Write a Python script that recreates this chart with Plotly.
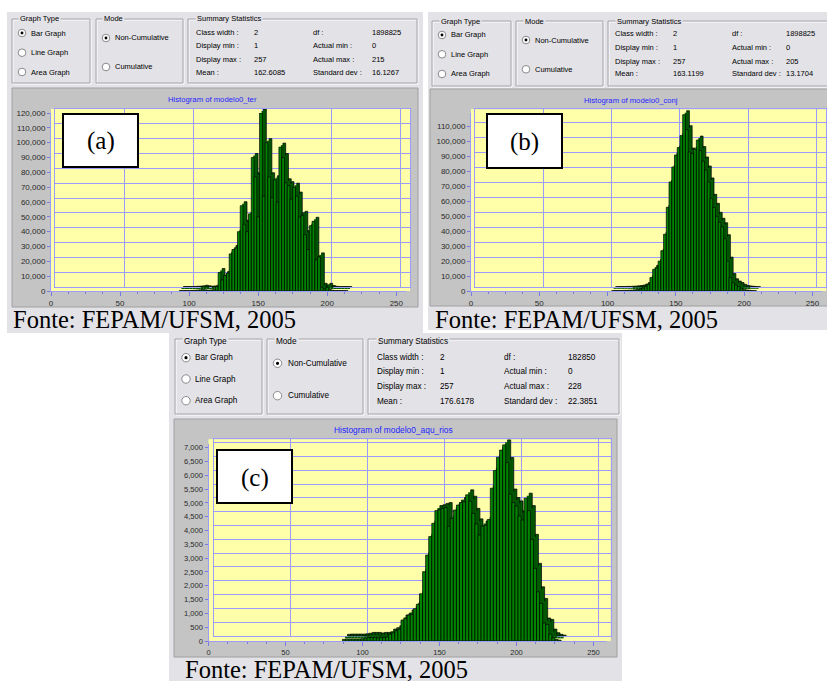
import plotly.graph_objects as go

W, H = 827, 681

# ---------------- data ----------------
TITLES = ["Histogram of modelo0_ter", "Histogram of modelo0_conj", "Histogram of modelo0_aqu_rios"]
TAGS = ["(a)", "(b)", "(c)"]
CAPTION = "Fonte: FEPAM/UFSM, 2005"
GRAPH_TYPES = ["Bar Graph", "Line Graph", "Area Graph"]
MODES = ["Non-Cumulative", "Cumulative"]
STAT_LABELS_L = ["Class width :", "Display min :", "Display max :", "Mean :"]
STAT_LABELS_R = ["df :", "Actual min :", "Actual max :", "Standard dev :"]
STATS_A_L = ["2", "1", "257", "162.6085"]
STATS_A_R = ["1898825", "0", "215", "16.1267"]
STATS_B_L = ["2", "1", "257", "163.1199"]
STATS_B_R = ["1898825", "0", "205", "13.1704"]
STATS_C_L = ["2", "1", "257", "176.6178"]
STATS_C_R = ["182850", "0", "228", "22.3851"]
X_TICKS = [0, 50, 100, 150, 200, 250]

BINS_A = [94, 96, 98, 100, 102, 104, 106, 108, 110, 112, 114, 116, 118, 120, 122, 124,
          126, 128, 130, 132, 134, 136, 138, 140, 142, 144, 146, 148, 150, 152, 154, 156,
          158, 160, 162, 164, 166, 168, 170, 172, 174, 176, 178, 180, 182, 184, 186, 188,
          190, 192, 194, 196, 198, 200, 202, 204, 206, 208, 210, 212, 214]
COUNTS_A = [300, 300, 300, 300, 400, 500, 600, 800, 1200, 800, 600, 700, 1000, 3000, 12500, 7500,
            10500, 12000, 25000, 28000, 29000, 40000, 57500, 45000, 40000, 52000, 90000, 77000, 50000, 120000, 64000, 100000,
            77000, 63000, 75000, 60000, 97000, 90000, 73000, 71000, 62000, 70000, 64000, 50000, 51000, 38000, 28000, 44000,
            47000, 21000, 23000, 2500, 1500, 2500, 1000, 500, 300, 300, 300, 300, 200]

BINS_B = [104, 106, 108, 110, 112, 114, 116, 118, 120, 122, 124, 126, 128, 130, 132, 134,
          136, 138, 140, 142, 144, 146, 148, 150, 152, 154, 156, 158, 160, 162, 164, 166,
          168, 170, 172, 174, 176, 178, 180, 182, 184, 186, 188, 190, 192, 194, 196, 198,
          200, 202, 204, 206, 208]
COUNTS_B = [200, 300, 300, 300, 400, 400, 500, 600, 800, 1000, 1300, 2000, 3000, 4500, 9000, 14500,
            15500, 20000, 27000, 38000, 56000, 73000, 83000, 91000, 96000, 104000, 118000, 108000, 93000, 92000, 95000, 101000,
            94000, 87000, 81000, 73000, 62000, 56000, 50000, 46000, 43000, 35000, 20000, 9000, 5500, 4000, 3000, 1800,
            1000, 700, 500, 300, 200]

BINS_C = [88, 90, 92, 94, 96, 98, 100, 102, 104, 106, 108, 110, 112, 114, 116, 118,
          120, 122, 124, 126, 128, 130, 132, 134, 136, 138, 140, 142, 144, 146, 148, 150,
          152, 154, 156, 158, 160, 162, 164, 166, 168, 170, 172, 174, 176, 178, 180, 182,
          184, 186, 188, 190, 192, 194, 196, 198, 200, 202, 204, 206, 208, 210, 212, 214,
          216, 218, 220, 222, 224, 226, 228]
COUNTS_C = [60, 70, 70, 70, 70, 70, 80, 100, 130, 130, 130, 110, 130, 130, 150, 250,
            300, 370, 430, 760, 820, 940, 960, 1170, 1330, 1710, 2510, 3110, 3780, 4260, 4720, 4750,
            4800, 4830, 4150, 4440, 4740, 4920, 5010, 5040, 5290, 5060, 4620, 4240, 3840, 4160, 4190, 4400,
            5530, 6170, 6650, 6910, 7100, 6460, 5320, 5010, 4890, 4530, 4380, 5170, 4720, 3680, 2630, 1780,
            1360, 650, 600, 250, 120, 60, 30]

# ---------------- geometry / style ----------------
SANS = "Liberation Sans"
SERIF = "Liberation Serif"
PANEL_BG = "#e3e2e7"
FRAME_BG = "#c4c4c4"
WALL = "#ffffaa"
GRID = "#9c9cff"
GREEN_FRONT = "#008400"
GREEN_BACK = "#005800"

GEOS = [
    dict(bg=(7, 12, 423, 333),
         gt_box=(12, 19, 90, 83), gt_lab=(18, 19), gt_rx=22, gt_ry=(33, 52.7, 72), gt_tx=29.5,
         md_box=(96, 19, 183, 83), md_lab=(102, 19), md_rx=106, md_ry=(38, 67), md_tx=113.5,
         ss_box=(188, 19, 417, 83), ss_lab=(195, 19), rows=(32, 45.3, 59, 72.7), cols=(195, 253, 312, 371),
         frame=(12, 88, 418, 307), title=(212, 99),
         front=(51, 113, 406, 291), off=4, xmax=257, ymax=120000, ystep=10000,
         tag=(63, 114, 138, 167), caption=(12, 319), fs=7.5, tfs=8, rr=3.8,
         bins=BINS_A, counts=COUNTS_A, sl=STATS_A_L, sr=STATS_A_R),
    dict(bg=(428, 12, 827, 330),
         gt_box=(432, 21, 511, 86), gt_lab=(439, 21), gt_rx=442, gt_ry=(35, 54.3, 74), gt_tx=449.5,
         md_box=(516, 21, 603, 86), md_lab=(523, 21), md_rx=526, md_ry=(40, 69.3), md_tx=534,
         ss_box=(608, 21, 845, 86), ss_lab=(615, 21), rows=(34, 47.3, 61, 74), cols=(614, 672, 731, 785),
         frame=(430, 89, 845, 306), title=(631, 100),
         front=(471, 113.2, 822, 291), off=4, xmax=257, ymax=119000, ystep=10000,
         tag=(487, 114, 562, 168), caption=(434, 319), fs=7.5, tfs=8, rr=3.8,
         bins=BINS_B, counts=COUNTS_B, sl=STATS_B_L, sr=STATS_B_R),
    dict(bg=(169, 333, 622, 681),
         gt_box=(175, 339, 262, 414), gt_lab=(182, 341.5), gt_rx=186, gt_ry=(357.7, 379, 400.7), gt_tx=194,
         md_box=(267, 339, 363, 414), md_lab=(274, 341.5), md_rx=277.5, md_ry=(363.3, 395.7), md_tx=286.5,
         ss_box=(368, 339, 619, 414), ss_lab=(376, 341.5), rows=(357.3, 371.7, 386.7, 401.3), cols=(376, 439, 503, 567),
         frame=(174, 419, 617, 657), title=(393, 430),
         front=(208.5, 444.3, 605.8, 641), off=5, xmax=258, ymax=7120, ystep=500,
         tag=(217, 450, 292, 503), caption=(184, 669.5), fs=8.2, tfs=7.6, rr=4.2,
         bins=BINS_C, counts=COUNTS_C, sl=STATS_C_L, sr=STATS_C_R),
]


def X(p):
    return p / W


def Y(p):
    return 1 - p / H


shapes, annos = [], []


def rect(x0, y0, x1, y1, fill=None, line=None, lw=1, layer="below"):
    shapes.append(dict(type="rect", xref="paper", yref="paper",
                       x0=X(x0), x1=X(x1), y0=Y(y1), y1=Y(y0),
                       fillcolor=fill if fill else "rgba(0,0,0,0)",
                       line=dict(color=line if line else "rgba(0,0,0,0)", width=lw if line else 0),
                       layer=layer))


def circle(cx, cy, r, fill, line=None, lw=1):
    shapes.append(dict(type="circle", xref="paper", yref="paper",
                       x0=X(cx - r), x1=X(cx + r), y0=Y(cy + r), y1=Y(cy - r),
                       fillcolor=fill,
                       line=dict(color=line if line else "rgba(0,0,0,0)", width=lw if line else 0),
                       layer="above"))


def text(x, y, s, size, color="black", family=SANS, anchor="left", bg=None):
    a = dict(xref="paper", yref="paper", x=X(x), y=Y(y), text=s, showarrow=False,
             xanchor=anchor, yanchor="middle", borderpad=0,
             font=dict(size=size, color=color, family=family))
    if bg:
        a["bgcolor"] = bg
        a["borderpad"] = 1
    annos.append(a)


def group_box(box, lab, label, fs):
    x0, y0, x1, y1 = box
    rect(x0 + 1, y0 + 1, x1 + 1, y1 + 1, line="white")
    rect(x0, y0, x1, y1, line="#a4a4a8")
    text(lab[0], lab[1], label, fs, bg=PANEL_BG)


fig = go.Figure()
axes = {}


def ax_name(kind, n):
    return f"{kind}axis" if n == 1 else f"{kind}axis{n}"


def ax_ref(kind, n):
    return kind if n == 1 else f"{kind}{n}"


for i, g in enumerate(GEOS):
    fs = g["fs"]
    # panel background
    rect(*g["bg"], fill=PANEL_BG)
    # header groups
    group_box(g["gt_box"], g["gt_lab"], "Graph Type", fs)
    for k, (ry, lab) in enumerate(zip(g["gt_ry"], GRAPH_TYPES)):
        circle(g["gt_rx"], ry, g["rr"], "white", "#8a8a8a")
        if k == 0:
            circle(g["gt_rx"], ry, g["rr"] * 0.38, "black")
        text(g["gt_tx"], ry, lab, fs)
    group_box(g["md_box"], g["md_lab"], "Mode", fs)
    for k, (ry, lab) in enumerate(zip(g["md_ry"], MODES)):
        circle(g["md_rx"], ry, g["rr"], "white", "#8a8a8a")
        if k == 0:
            circle(g["md_rx"], ry, g["rr"] * 0.38, "black")
        text(g["md_tx"], ry, lab, fs)
    group_box(g["ss_box"], g["ss_lab"], "Summary Statistics", fs)
    c0, c1, c2, c3 = g["cols"]
    for r, yy in enumerate(g["rows"]):
        text(c0, yy, STAT_LABELS_L[r], fs)
        text(c1, yy, g["sl"][r], fs)
        text(c2, yy, STAT_LABELS_R[r], fs)
        text(c3, yy, g["sr"][r], fs)

    # chart frame
    rect(*g["frame"], fill=FRAME_BG, line="#a0a0a0")
    text(g["title"][0], g["title"][1], TITLES[i], fs + 0.2, color="#2424ff", anchor="center")

    fx0, fy0, fx1, fy1 = g["front"]
    off = g["off"]
    # wall + floor
    rect(fx0, fy0 - off, fx1 + off, fy1, fill=WALL)

    nb, nm, nf = 3 * i + 1, 3 * i + 2, 3 * i + 3
    for n, d in ((nb, off), (nm, off / 2.0), (nf, 0)):
        xd = [X(fx0 + d), X(fx1 + d)]
        yd = [Y(fy1 - d), Y(fy0 - d)]
        xa = dict(domain=xd, range=[0, g["xmax"]], anchor=ax_ref("y", n), fixedrange=True,
                  zeroline=False, automargin=False)
        ya = dict(domain=yd, range=[0, g["ymax"]], anchor=ax_ref("x", n), fixedrange=True,
                  zeroline=False, automargin=False)
        if n == nb:
            xa.update(showgrid=True, gridcolor=GRID, gridwidth=1, tickmode="array", tickvals=X_TICKS,
                      showticklabels=False, ticks="", showline=True, linecolor=GRID, mirror=True)
            ya.update(showgrid=True, gridcolor=GRID, gridwidth=1, tickmode="linear", tick0=0,
                      dtick=g["ystep"], showticklabels=False, ticks="", showline=True,
                      linecolor=GRID, mirror=True)
        elif n == nm:
            xa.update(visible=False, showgrid=False)
            ya.update(visible=False, showgrid=False)
        else:
            tf = dict(family=SANS, size=g["tfs"], color="#2a2a2a")
            xa.update(showgrid=False, showline=True, linecolor=GRID, ticks="outside", ticklen=4,
                      tickcolor="#7a7ae0", tickmode="array", tickvals=X_TICKS,
                      ticktext=[str(v) for v in X_TICKS], tickfont=tf,
                      minor=dict(ticks="outside", ticklen=2, tickcolor="#7a7ae0",
                                 tickmode="linear", tick0=0, dtick=12.5, showgrid=False))
            ya.update(showgrid=False, showline=True, linecolor=GRID, ticks="outside", ticklen=3,
                      tickcolor="#7a7ae0", tickmode="linear", tick0=0, dtick=g["ystep"],
                      tickformat=",d", tickfont=tf)
        axes[ax_name("x", n)] = xa
        axes[ax_name("y", n)] = ya

    # bars: back (depth), mid (depth fill), front
    fig.add_trace(go.Bar(x=g["bins"], y=g["counts"], width=2, xaxis=ax_ref("x", nb), yaxis=ax_ref("y", nb),
                         marker=dict(color=GREEN_BACK, line=dict(color="black", width=0.7)),
                         hoverinfo="skip", showlegend=False))
    fig.add_trace(go.Bar(x=g["bins"], y=g["counts"], width=2, xaxis=ax_ref("x", nm), yaxis=ax_ref("y", nm),
                         marker=dict(color=GREEN_BACK, line=dict(width=0)),
                         hoverinfo="skip", showlegend=False))
    fig.add_trace(go.Bar(x=g["bins"], y=g["counts"], width=2, xaxis=ax_ref("x", nf), yaxis=ax_ref("y", nf),
                         marker=dict(color=GREEN_FRONT, line=dict(color="black", width=0.7)),
                         hoverinfo="skip", showlegend=False))

    # tag box
    tx0, ty0, tx1, ty1 = g["tag"]
    rect(tx0, ty0, tx1, ty1, fill="white", line="black", lw=2, layer="above")
    text((tx0 + tx1) / 2.0, (ty0 + ty1) / 2.0 + 1, TAGS[i], 25, family=SERIF, anchor="center")

    # caption
    text(g["caption"][0], g["caption"][1], CAPTION, 24.5, family=SERIF)

fig.update_layout(width=W, height=H, margin=dict(l=0, r=0, t=0, b=0),
                  paper_bgcolor="white", plot_bgcolor="rgba(0,0,0,0)",
                  showlegend=False, barmode="overlay",
                  shapes=shapes, annotations=annos, **axes)

fig.write_html("out.html", config={"displayModeBar": False},
               post_script="document.body.style.margin='0px';document.body.style.overflow='hidden';")
